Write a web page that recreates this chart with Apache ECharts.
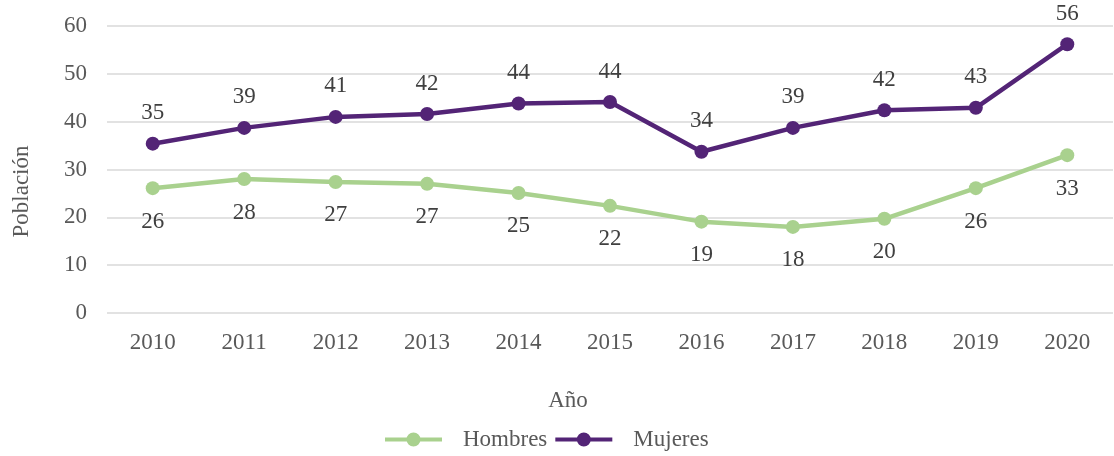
<!DOCTYPE html>
<html>
<head>
<meta charset="utf-8">
<script src="https://cdn.jsdelivr.net/npm/echarts@6/dist/echarts.min.js"></script>
<style>
  html, body { margin: 0; padding: 0; background: #fff; }
  #main { width: 1114px; height: 456px; }
</style>
</head>
<body>
<div id="main"></div>
<script>
// datos
var years = ["2010", "2011", "2012", "2013", "2014", "2015", "2016", "2017", "2018", "2019", "2020"];
var hombres = [26.1, 28.0, 27.4, 27.0, 25.1, 22.4, 19.1, 18.0, 19.7, 26.1, 33.0];
var mujeres = [35.4, 38.7, 41.0, 41.6, 43.8, 44.1, 33.7, 38.7, 42.4, 42.9, 56.2];
var yTicks = [0, 10, 20, 30, 40, 50, 60];

var serif = "'Liberation Serif', 'Times New Roman', serif";
var fs = 23;
// icono de leyenda: linea gruesa con circulo al centro
var legendIcon = "path://M0,5 L22,5 L22,9 L0,9 Z M21.5,7 A7,7 0 1,1 35.5,7 A7,7 0 1,1 21.5,7 Z M35,5 L57,5 L57,9 L35,9 Z";

var myChart = echarts.init(document.getElementById("main"));

var option = {
  backgroundColor: "#fff",
  textStyle: { fontFamily: serif },
  grid: { left: 107, right: 1, top: 26, bottom: 143, outerBoundsMode: "none" },
  legend: {
    bottom: 0,
    left: 380,
    icon: legendIcon,
    itemWidth: 57,
    itemHeight: 14,
    itemGap: 8,
    textStyle: { fontFamily: serif, fontSize: fs, color: "#595959", padding: [0, 0, 0, 16] },
    data: ["Hombres", "Mujeres"],
  },
  xAxis: {
    type: "category",
    data: years,
    boundaryGap: true,
    name: "Año",
    nameLocation: "middle",
    nameGap: 76,
    nameTextStyle: { fontFamily: serif, fontSize: fs, color: "#595959", padding: [0, 84, 0, 0] },
    axisLine: { show: false },
    axisTick: { show: false },
    axisLabel: { fontFamily: serif, fontSize: fs, color: "#595959", margin: 18 },
  },
  yAxis: {
    type: "value",
    min: yTicks[0],
    max: yTicks[yTicks.length - 1],
    interval: 10,
    name: "Población",
    nameLocation: "middle",
    nameGap: 74,
    nameTextStyle: { fontFamily: serif, fontSize: fs, color: "#595959", padding: [0, 44, 0, 0] },
    axisLine: { show: false },
    axisTick: { show: false },
    axisLabel: { fontFamily: serif, fontSize: fs, color: "#595959", margin: 20 },
    splitLine: { lineStyle: { color: "#d9d9d9", width: 1.5 } },
  },
  series: [
    {
      name: "Hombres",
      type: "line",
      data: hombres,
      color: "#a9d18e",
      symbol: "circle",
      symbolSize: 14,
      lineStyle: { width: 4.5 },
      label: {
        show: true,
        position: "bottom",
        distance: 15,
        fontFamily: serif,
        fontSize: fs,
        color: "#404040",
        formatter: function (p) { return Math.round(p.value); },
      },
    },
    {
      name: "Mujeres",
      type: "line",
      data: mujeres,
      color: "#532476",
      symbol: "circle",
      symbolSize: 14,
      lineStyle: { width: 4.5 },
      label: {
        show: true,
        position: "top",
        distance: 12,
        fontFamily: serif,
        fontSize: fs,
        color: "#404040",
        formatter: function (p) { return Math.round(p.value); },
      },
    },
  ],
};
myChart.setOption(option);
</script>
</body>
</html>
